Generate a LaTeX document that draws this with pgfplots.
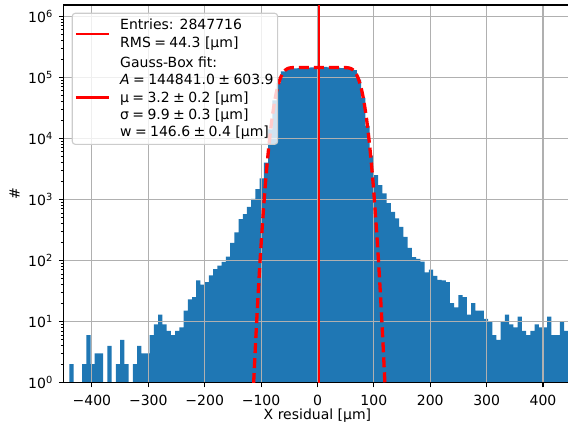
\documentclass[border=0pt]{standalone}
\usepackage{fontspec}
\setmainfont{DejaVu Sans}
\usepackage{pgfplots}
\pgfplotsset{compat=1.18}
\newcommand{\fs}{\fontsize{14bp}{17.4bp}\selectfont}
\newcommand{\ms}{\hspace{0.24em}}
\definecolor{tabblue}{HTML}{1F77B4}
\definecolor{gridgray}{HTML}{B0B0B0}
\definecolor{leggray}{HTML}{CCCCCC}
\pgfplotstableread{
edge count
-447.5 1
-440 2
-432.5 1
-425 1
-417.5 2
-410 6
-402.5 2
-395 3
-387.5 3
-380 1
-372.5 4
-365 1
-357.5 2
-350 5
-342.5 2
-335 1
-327.5 2
-320 4
-312.5 3
-305 3
-297.5 6
-290 9
-282.5 13
-275 9
-267.5 7
-260 6
-252.5 7
-245 8
-237.5 15
-230 23
-222.5 25
-215 47
-207.5 40
-200 44
-192.5 57
-185 72
-177.5 82
-170 95
-162.5 115
-155 194
-147.5 288
-140 475
-132.5 574
-125 757
-117.5 1023
-110 1475
-102.5 2200
-95 4000
-87.5 14000
-80 42000
-72.5 80000
-65 125000
-57.5 133000
-50 137000
-42.5 140000
-35 142000
-27.5 143000
-20 144000
-12.5 145000
-5 147000
2.5 149000
10 148000
17.5 146000
25 145000
32.5 144000
40 142000
47.5 140000
55 136000
62.5 131000
70 92000
77.5 46000
85 16000
92.5 5200
100 2500
107.5 1716
115 1254
122.5 870
130 626
137.5 488
145 356
152.5 244
160 160
167.5 113
175 106
182.5 96
190 64
197.5 71
205 56
212.5 48
220 47
227.5 44
235 20
242.5 17
250 27
257.5 25
265 13
272.5 20
280 15
287.5 15
295 11
302.5 10
310 6
317.5 5
325 10
332.5 13
340 9
347.5 8
355 12
362.5 7
370 6
377.5 7
385 9
392.5 8
400 8
407.5 12
415 6
422.5 6
430 10
437.5 7
445 8
452.5 8
}\histdata
\pgfplotstableread{
x f
-113.2 0.98
-109.7 4.59
-107.2 12.8
-104.75 33.7
-102.3 83.6
-99.8 195.5
-97.3 431.6
-94.85 899
-92.4 1770
-89.9 3295
-87.4 5803
-84.95 9676
-82.5 15300
-80.0 22986
-77.5 32820
-75.05 44683
-72.6 58120
-70.1 72420
-67.6 86720
-65.15 100158
-62.7 112020
-60.2 121855
-57.7 129545
-55.25 135166
-52.8 139035
-50.3 141546
-47.8 143071
-45.35 143942
-40.4 144645
-35.45 144807
3.2 144841
41.85 144807
46.8 144645
51.75 143942
54.2 143071
56.7 141546
59.2 139035
61.65 135166
64.1 129545
66.6 121855
69.1 112020
71.55 100158
74.0 86720
76.5 72420
79.0 58120
81.45 44683
83.9 32820
86.4 22986
88.9 15300
91.35 9676
93.8 5803
96.3 3295
98.8 1770
101.25 899
103.7 431.6
106.2 195.5
108.7 83.6
111.15 33.7
113.6 12.8
116.1 4.59
119.6 0.98
}\fitdata
\begin{document}
\begin{tikzpicture}
\begin{axis}[
  set layers,
  scale only axis, width=507.2bp, height=377.3bp,
  xmin=-450, xmax=450, ymode=log, ymin=1, ymax=1.53e6,
  log origin=0,
  axis line style={line width=1.1bp},
  tick align=outside, xtick pos=bottom, ytick pos=left,
  major tick length=4.9bp, minor tick length=2.8bp,
  every tick/.style={black, line width=1.1bp},
  every minor tick/.style={black, line width=0.85bp},
  xtick={-400,-300,-200,-100,0,100,200,300,400},
  xticklabels={−400,−300,−200,−100,0,100,200,300,400},
  xticklabel style={inner sep=0pt, yshift=-7.7bp},
  ytick={1,10,100,1000,10000,100000,1000000},
  yticklabels={10\textsuperscript{0},10\textsuperscript{1},10\textsuperscript{2},10\textsuperscript{3},10\textsuperscript{4},10\textsuperscript{5},10\textsuperscript{6}},
  yticklabel style={xshift=-2.5bp},
  minor ytick={2,3,4,5,6,7,8,9,20,30,40,50,60,70,80,90,200,300,400,500,600,700,800,900,2000,3000,4000,5000,6000,7000,8000,9000,20000,30000,40000,50000,60000,70000,80000,90000,200000,300000,400000,500000,600000,700000,800000,900000},
  xmajorgrids, ymajorgrids,
  major grid style={gridgray, line width=1.1bp},
  tick label style={font=\fs},
  label style={font=\fs},
  xlabel={X residual [μm]},
  ylabel={\#},
  xlabel style={at={([yshift=-37bp]axis description cs:0.5,0)}, anchor=base, inner sep=0pt},
  ylabel style={at={([xshift=-49.2bp]axis description cs:0,0.5)}, anchor=center},
  legend style={at={([xshift=8bp,yshift=-7.7bp]axis description cs:0,1)}, anchor=north west,
    fill=white, fill opacity=0.8, text opacity=1, draw=leggray, draw opacity=1,
    line width=1.1bp, rounded corners=3bp, font=\fs,
    inner xsep=2bp, inner ysep=4bp, row sep=3.8bp, column sep=8bp,
    cells={anchor=west, align=left, inner xsep=4bp, inner ysep=2bp}},
  legend image code/.code={\path (0bp,0bp) -- (32.6bp,0bp); \draw[#1,rounded corners=0pt] (4.6bp,0bp) -- (32.6bp,0bp);},
]
\addplot[on layer=axis background, ybar interval, fill=tabblue, draw=none, forget plot] table[x=edge, y=count] {\histdata};
\addplot[red, line width=2.5bp] coordinates {(2.5,1) (2.5,1.53e6)};
\addlegendentry{Entries: 2847716\\RMS\ms=\ms44.3 [μm]}
\addplot[red, line width=3.3bp, dash pattern=on 10bp off 5bp, smooth] table[x=x, y=f] {\fitdata};
\addlegendentry{Gauss-Box fit:\\\textit{A}\ms=\ms144841.0\ms±\ms603.9\\μ\ms=\ms3.2\ms±\ms0.2 [μm]\\σ\ms=\ms9.9\ms±\ms0.3 [μm]\\w\ms=\ms146.6\ms±\ms0.4 [μm]}
\end{axis}
\pgfresetboundingbox
\path[use as bounding box] ([xshift=-63.7bp,yshift=-44.7bp]current axis.south west) rectangle ([xshift=-3.2bp,yshift=5bp]current axis.north east);
\end{tikzpicture}
\end{document}
